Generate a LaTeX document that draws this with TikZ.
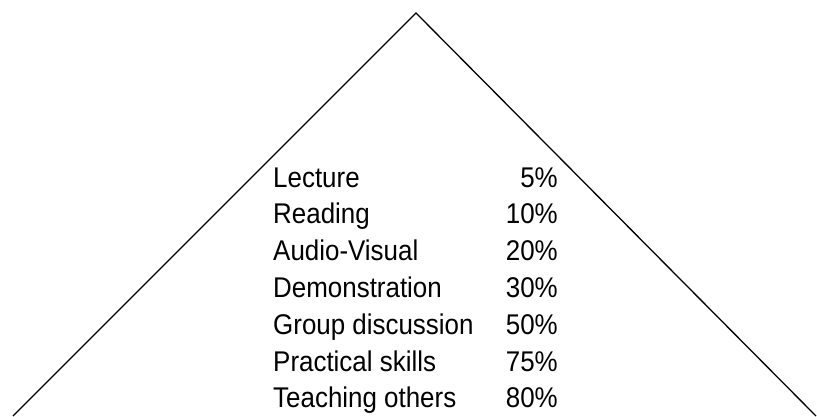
\documentclass[tikz,border=0pt]{standalone}
\usepackage{fontspec}
\setmainfont[FakeStretch=0.91]{Liberation Sans}
\begin{document}
\begin{tikzpicture}[x=1pt,y=-1pt,
  lbl/.style={anchor=base west,inner sep=0pt,font=\fontsize{28.5}{31}\selectfont},
  pct/.style={anchor=base east,inner sep=0pt,font=\fontsize{28.5}{31}\selectfont},
  edge/.style={draw=black,line width=1.3pt}]
\useasboundingbox (0,0) rectangle (817,416);
\coordinate (apex) at (416,13);
\coordinate (bl) at (13,416);
\coordinate (br) at (816,416);
\draw[edge] (bl) -- (apex) -- (br);
\node[lbl] (l1) at (273,187) {Lecture};
\node[lbl] (l2) at (273,223.8) {Reading};
\node[lbl] (l3) at (273,260.6) {Audio-Visual};
\node[lbl] (l4) at (273,297.4) {Demonstration};
\node[lbl] (l5) at (273,334.2) {Group discussion};
\node[lbl] (l6) at (273,371) {Practical skills};
\node[lbl] (l7) at (273,407.8) {Teaching others};
\node[pct] (p1) at (558,187) {5\%};
\node[pct] (p2) at (558,223.8) {10\%};
\node[pct] (p3) at (558,260.6) {20\%};
\node[pct] (p4) at (558,297.4) {30\%};
\node[pct] (p5) at (558,334.2) {50\%};
\node[pct] (p6) at (558,371) {75\%};
\node[pct] (p7) at (558,407.8) {80\%};
\end{tikzpicture}
\end{document}
